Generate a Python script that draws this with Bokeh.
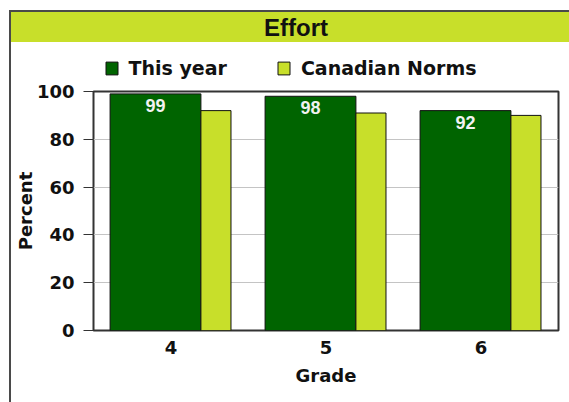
from bokeh.plotting import figure
from bokeh.layouts import column
from bokeh.models import (FactorRange, Range1d, ColumnDataSource, Legend, LegendItem)
from bokeh.transform import dodge
from bokeh.core.properties import value
from bokeh.embed import file_html
from bokeh.resources import INLINE

# ---- data ----
grades = ["4", "5", "6"]
this_year = [99, 98, 92]
canadian_norms = [92, 91, 90]
yticks = [0, 20, 40, 60, 80, 100]
series_names = ["This year", "Canadian Norms"]
title_text = "Effort"
x_title = "Grade"
y_title = "Percent"

GREEN = "#006400"
LIME = "#c8df2a"
DARK = "#111111"

src = ColumnDataSource(dict(grade=grades, this_year=this_year, norms=canadian_norms,
                            label=[str(v) for v in this_year]))

# ---- title band ----
band = figure(width=558, height=30, output_backend="svg", toolbar_location=None,
              x_range=Range1d(0, 1), y_range=Range1d(0, 1),
              x_axis_type=None, y_axis_type=None,
              min_border_left=81, min_border_right=11, min_border_top=0, min_border_bottom=0,
              styles={"background-color": LIME})
band.background_fill_color = None
band.border_fill_color = None
band.outline_line_color = None
band.xgrid.visible = False
band.ygrid.visible = False
band.text(x=[0.5], y=[0.5], text=[title_text], x_offset=-30, text_align="center",
          text_baseline="middle", text_font=value("Liberation Sans"), text_font_style="bold",
          text_font_size="24px", text_color=DARK)

# ---- legend row (same series, drawn off-range; only the legend shows) ----
leg = figure(width=558, height=38, output_backend="svg", toolbar_location=None,
             x_range=FactorRange(factors=grades), y_range=Range1d(1000, 1001),
             x_axis_type=None, y_axis_type=None,
             min_border_left=81, min_border_right=11, min_border_top=0, min_border_bottom=0)
leg.background_fill_color = None
leg.border_fill_color = "white"
leg.outline_line_color = None
leg.xgrid.visible = False
leg.ygrid.visible = False
l1 = leg.vbar(x=dodge("grade", -0.1, range=leg.x_range), top="this_year", width=0.586,
              source=src, fill_color=GREEN, line_color=DARK, line_width=1)
l2 = leg.vbar(x=dodge("grade", 0.29, range=leg.x_range), top="norms", width=0.194,
              source=src, fill_color=LIME, line_color=DARK, line_width=1)
legend = Legend(items=[LegendItem(label=series_names[0], renderers=[l1]),
                       LegendItem(label=series_names[1], renderers=[l2])],
                orientation="horizontal", location=(10.5, 1.5), margin=0, padding=0,
                spacing=49, label_standoff=10, glyph_width=15, glyph_height=16,
                label_text_font="DejaVu Sans", label_text_font_style="bold",
                label_text_font_size="19px", label_text_color=DARK,
                border_line_color=None, background_fill_alpha=0)
leg.add_layout(legend)

# ---- main chart ----
p = figure(x_range=FactorRange(factors=grades), y_range=Range1d(0, 100),
           width=558, height=322, output_backend="svg", toolbar_location=None,
           min_border_left=81, min_border_right=11, min_border_top=11, min_border_bottom=72)
p.border_fill_color = "white"
p.background_fill_color = "white"

p.vbar(x=dodge("grade", -0.1, range=p.x_range), top="this_year", width=0.586, source=src,
       fill_color=GREEN, line_color=DARK, line_width=1)
p.vbar(x=dodge("grade", 0.29, range=p.x_range), top="norms", width=0.194, source=src,
       fill_color=LIME, line_color=DARK, line_width=1)

p.text(x=dodge("grade", -0.1, range=p.x_range), y="this_year", text="label", source=src,
       text_align="center", text_baseline="top", y_offset=5, text_color="#f2f2f2",
       text_font=value("Liberation Sans"), text_font_style="bold", text_font_size="18px")

# axes
p.yaxis.ticker = yticks
p.ygrid.ticker = yticks
p.yaxis.axis_label = y_title
p.xaxis.axis_label = x_title
for ax in (p.xaxis[0], p.yaxis[0]):
    ax.major_label_text_font = "DejaVu Sans"
    ax.major_label_text_font_style = "bold"
    ax.major_label_text_font_size = "18px"
    ax.major_label_text_color = DARK
    ax.axis_label_text_font = "DejaVu Sans"
    ax.axis_label_text_font_style = "bold"
    ax.axis_label_text_font_size = "18px"
    ax.axis_label_text_color = DARK
    ax.minor_tick_in = 0
    ax.minor_tick_out = 0
    ax.axis_line_color = None

p.yaxis.major_tick_out = 10
p.yaxis.major_tick_in = 0
p.yaxis.major_tick_line_color = "#333333"
p.yaxis.major_label_standoff = 9
p.yaxis.axis_label_standoff = -2

p.xaxis.major_tick_out = 0
p.xaxis.major_tick_in = 0
p.xaxis.major_tick_line_color = None
p.xaxis.major_label_standoff = 10
p.xaxis.axis_label_standoff = 8

p.xgrid.grid_line_color = None
p.ygrid.grid_line_color = "#c4c4c4"
p.outline_line_color = "#333333"
p.outline_line_width = 2

layout = column(band, leg, p, spacing=0,
                styles={"border-left": "2px solid #4a4a4a", "border-top": "2px solid #4a4a4a",
                        "margin-left": "9px", "margin-top": "10px"})

open("out.html", "w").write(file_html(layout, INLINE))
